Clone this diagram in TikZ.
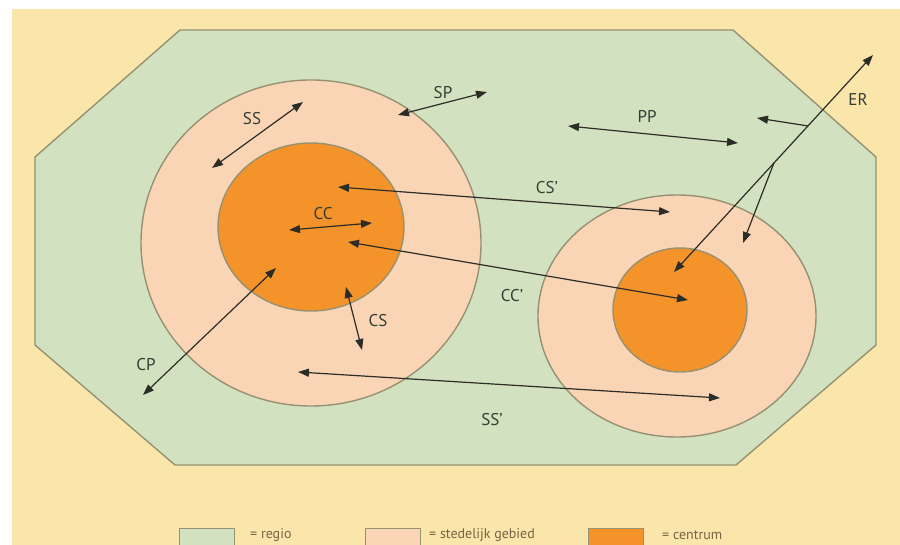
\documentclass[tikz,border=0pt]{standalone}
\usepackage{fontspec}
\setmainfont{PT Sans}
\usetikzlibrary{arrows.meta,calc}

\definecolor{bgyellow}{RGB}{250,229,170}
\definecolor{regio}{RGB}{210,225,191}
\definecolor{stad}{RGB}{250,213,181}
\definecolor{centrum}{RGB}{243,147,42}
\definecolor{edgegray}{RGB}{150,145,112}
\definecolor{arrowgray}{RGB}{45,45,40}
\definecolor{labelgray}{RGB}{52,62,52}
\definecolor{legendbrown}{RGB}{120,100,70}

\begin{document}
\begin{tikzpicture}[x=1pt, y=-1pt, line join=round, line cap=round,
    >={Triangle[length=11pt,width=8pt]},
    zone/.style={draw=edgegray, line width=1.4pt},
    flow/.style={<->, draw=arrowgray, line width=1.2pt},
    lbl/.style={font=\fontsize{17}{17}\selectfont, text=labelgray, inner sep=0pt},
    legbox/.style={draw=edgegray, line width=1pt, minimum width=55pt, minimum height=24pt, inner sep=0pt},
    legtxt/.style={font=\fontsize{14}{14}\selectfont, text=legendbrown, anchor=west, inner sep=0pt}]
  \useasboundingbox (0,0) rectangle (900,545);
  \clip (0,0) rectangle (900,545);
  \fill[white] (0,0) rectangle (900,545);
  \fill[bgyellow] (12,9) rectangle (900,545);

  % regio, stedelijk gebied, centrum
  \draw[zone, fill=regio] (180,30) -- (733,30) -- (876,157) -- (876,345) -- (736,465)
    -- (175,465) -- (35,345) -- (35,157) -- cycle;
  \draw[zone, fill=stad] (311,243) ellipse [x radius=170, y radius=163];
  \draw[zone, fill=stad] (677,316) ellipse [x radius=139, y radius=121];
  \draw[zone, fill=centrum] (311,227) ellipse [x radius=93, y radius=84];
  \draw[zone, fill=centrum] (680,310) ellipse [x radius=67, y radius=62];

  % end points of the flows
  \coordinate (ssA) at (212,168);  \coordinate (ssB) at (303,102);
  \coordinate (spA) at (398,115);  \coordinate (spB) at (487,92);
  \coordinate (ppA) at (568,126);  \coordinate (ppB) at (738,143);
  \coordinate (csxA) at (338,187); \coordinate (csxB) at (670,212);
  \coordinate (ccA) at (289,230);  \coordinate (ccB) at (372,223);
  \coordinate (ccxA) at (348,242); \coordinate (ccxB) at (688,300);
  \coordinate (csA) at (346,287);  \coordinate (csB) at (362,350);
  \coordinate (cpA) at (276,268);  \coordinate (cpB) at (143,395);
  \coordinate (ssxA) at (298,372); \coordinate (ssxB) at (720,398);
  \coordinate (erA) at (674,272);  \coordinate (erB) at (873,55);
  \coordinate (erP) at ($(erA)!0.673!(erB)$); \coordinate (erPend) at (757,118);
  \coordinate (erQ) at ($(erA)!0.502!(erB)$); \coordinate (erQend) at (743,243);

  \draw[flow] (ssA) -- (ssB);
  \draw[flow] (spA) -- (spB);
  \draw[flow] (ppA) -- (ppB);
  \draw[flow] (csxA) -- (csxB);
  \draw[flow] (ccA) -- (ccB);
  \draw[flow] (ccxA) -- (ccxB);
  \draw[flow] (csA) -- (csB);
  \draw[flow] (cpA) -- (cpB);
  \draw[flow] (ssxA) -- (ssxB);
  \draw[flow] (erA) -- (erB);
  \draw[flow, <-] (erPend) -- (erP);
  \draw[flow, <-] (erQend) -- (erQ);

  % labels
  \node[lbl] (ssL) at (252,119) {SS};
  \node[lbl] (spL) at (443,93) {SP};
  \node[lbl] (ppL) at (647,116) {PP};
  \node[lbl] (erL) at (858,99) {ER};
  \node[lbl] (csxL) at (547,188) {CS'};
  \node[lbl] (ccL) at (323,214) {CC};
  \node[lbl] (ccxL) at (512,296) {CC'};
  \node[lbl] (csL) at (378,321) {CS};
  \node[lbl] (cpL) at (146,365) {CP};
  \node[lbl] (ssxL) at (492,420) {SS'};

  % legend
  \node[legbox, fill=regio] (legR) at (207,540) {};
  \node[legtxt] (legRt) at (250,535) {= regio};
  \node[legbox, fill=stad] (legS) at (393,540) {};
  \node[legtxt] (legSt) at (429,535) {= stedelijk gebied};
  \node[legbox, fill=centrum] (legC) at (616,540) {};
  \node[legtxt] (legCt) at (662,535) {= centrum};
\end{tikzpicture}
\end{document}
